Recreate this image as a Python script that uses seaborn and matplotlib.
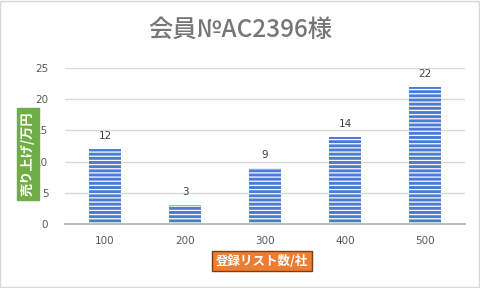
import matplotlib
matplotlib.use("Agg")
import matplotlib.pyplot as plt
import seaborn as sns
import pandas as pd

categories = ["100", "200", "300", "400", "500"]
values = [12, 3, 9, 14, 22]
yticks = [0, 5, 10, 15, 20, 25]
title = "会員№AC2396様"
ylabel = "売り上げ/万円"
xlabel = "登録リスト数/社"

sns.set_theme(style="white")
plt.rcParams['font.family'] = ['Noto Sans CJK JP', 'DejaVu Sans']
plt.rcParams['hatch.color'] = 'white'
plt.rcParams['hatch.linewidth'] = 0.9

df = pd.DataFrame({"cat": categories, "val": values})

fig = plt.figure(figsize=(4.8, 2.88), dpi=100)
ax = fig.add_axes([65/480, 1-224/288, 400/480, 156/288])

sns.barplot(data=df, x="cat", y="val", color="#4472c4", width=0.4,
            saturation=1, ax=ax, linewidth=0)
for p in ax.patches:
    p.set_facecolor("#4a7bd5")
    p.set_hatch("----")
    p.set_edgecolor("white")
    p.set_linewidth(0)

for i, v in enumerate(values):
    ax.text(i, v + 1.3, str(v), ha="center", va="bottom", fontsize=7.5,
            color="#404040", family="DejaVu Sans")

ax.set_xlim(-0.5, 4.5)
ax.set_ylim(0, 25)
ax.set_yticks(yticks)
ax.yaxis.grid(True, color="#d9d9d9", linewidth=1)
ax.set_axisbelow(True)
for s in ["top", "right", "left"]:
    ax.spines[s].set_visible(False)
ax.spines["bottom"].set_color("#bfbfbf")
ax.spines["bottom"].set_linewidth(1.5)
ax.tick_params(axis="both", length=0, labelsize=7.5, labelcolor="#595959")
ax.tick_params(axis="y", pad=12)
ax.tick_params(axis="x", pad=9)
for lbl in ax.get_xticklabels() + ax.get_yticklabels():
    lbl.set_family("DejaVu Sans")
ax.set_xlabel("")
ax.set_ylabel("")

fig.text(0.5, 1-30/288, "  ".join([]) or title, ha="center", va="center",
         fontsize=17.5, color="#767676", fontweight="medium")

fig.text(28/480, 1-154/288, ylabel, rotation=90, ha="center", va="center",
         fontsize=9.5, color="white", fontweight="bold",
         bbox=dict(boxstyle="square,pad=0.3", facecolor="#70ad47",
                   edgecolor="#70ad47"))
fig.text(262/480, 1-261/288, xlabel, ha="center", va="center",
         fontsize=9, color="white", fontweight="bold",
         bbox=dict(boxstyle="square,pad=0.3", facecolor="#ed7d31",
                   edgecolor="#843c0c", linewidth=1))

fig.patches.append(plt.Rectangle((0.001, 0.002), 0.997, 0.995, transform=fig.transFigure,
                                 fill=False, edgecolor="#d9d9d9", linewidth=1))

fig.savefig("out.png", dpi=100)
